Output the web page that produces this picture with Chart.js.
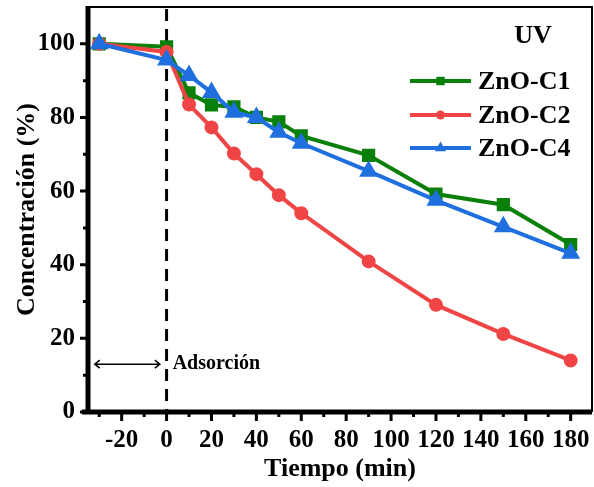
<!DOCTYPE html>
<html>
<head>
<meta charset="utf-8">
<script src="https://cdn.jsdelivr.net/npm/chart.js@4.4.1/dist/chart.umd.min.js"></script>
<style>
  html, body { margin: 0; padding: 0; background: #fff; }
  #wrap { width: 594px; height: 487px; }
</style>
</head>
<body>
<div id="wrap"><canvas id="myChart" width="594" height="487"></canvas></div>
<script>
// tiempo (min)
const tiempo = [-30, 0, 10, 20, 30, 40, 50, 60, 90, 120, 150, 180];
const znoC1 = [100, 99.2, 86.7, 83.4, 82.9, 80.0, 78.8, 75.0, 69.7, 59.2, 56.3, 45.5];
const znoC2 = [100, 97.8, 83.5, 77.3, 70.2, 64.6, 58.9, 54.0, 40.9, 29.1, 21.2, 14.0];
const znoC4 = [100, 95.6, 91.4, 86.8, 81.4, 80.0, 76.0, 73.0, 65.4, 57.5, 50.3, 43.1];
const xTicks = [-20, 0, 20, 40, 60, 80, 100, 120, 140, 160, 180];
const yTicks = [0, 20, 40, 60, 80, 100];

const serif = '"Liberation Serif", "Times New Roman", serif';
const green = '#0a800a', red = '#f04545', blue = '#1f6fdf';

function pts(ys){
  return tiempo.map((t, i) => ({x: t, y: ys[i]}));
}

function noPad(s){
  s.paddingTop = 0; s.paddingBottom = 0; s.paddingLeft = 0; s.paddingRight = 0;
}

// ejes, marcas, linea discontinua, leyenda y textos
const decor = {
  id: 'decor',
  beforeDatasetsDraw(chart){
    const ctx = chart.ctx, a = chart.chartArea;
    const xs = chart.scales.x;
    const x0 = xs.getPixelForValue(0);
    ctx.save();
    ctx.strokeStyle = '#000';
    ctx.lineWidth = 3;
    ctx.setLineDash([12, 8]);
    ctx.beginPath();
    ctx.moveTo(x0, a.top + 2);
    ctx.lineTo(x0, a.bottom);
    ctx.stroke();
    ctx.restore();
  },
  afterDatasetsDraw(chart){
    const ctx = chart.ctx, a = chart.chartArea;
    const xs = chart.scales.x, ys = chart.scales.y;
    ctx.save();
    ctx.strokeStyle = '#000';
    // top / right thin
    ctx.lineWidth = 2;
    ctx.beginPath();
    ctx.moveTo(a.left, a.top); ctx.lineTo(a.right, a.top); ctx.lineTo(a.right, a.bottom);
    ctx.stroke();
    // left / bottom thick
    ctx.lineWidth = 5;
    ctx.beginPath();
    ctx.moveTo(a.left, a.top - 1); ctx.lineTo(a.left, a.bottom);
    ctx.moveTo(a.left - 6, a.bottom); ctx.lineTo(a.right, a.bottom);
    ctx.stroke();
    // ticks
    ctx.lineWidth = 3;
    ctx.beginPath();
    for (let v = -30; v <= 180; v += 10){
      const px = xs.getPixelForValue(v);
      const len = v % 20 === 0 ? 9 : 5;
      ctx.moveTo(px, a.bottom); ctx.lineTo(px, a.bottom + len);
    }
    for (let v = 0; v <= 100; v += 10){
      const py = ys.getPixelForValue(v);
      const len = v % 20 === 0 ? 8 : 5;
      ctx.moveTo(a.left, py); ctx.lineTo(a.left - len, py);
    }
    ctx.stroke();

    // flecha de adsorcion
    const ay = ys.getPixelForValue(13);
    const ax1 = xs.getPixelForValue(-32), ax2 = xs.getPixelForValue(-3);
    ctx.lineWidth = 1.5;
    ctx.beginPath();
    ctx.moveTo(ax1, ay); ctx.lineTo(ax2, ay);
    ctx.moveTo(ax1 + 5, ay - 4); ctx.lineTo(ax1, ay); ctx.lineTo(ax1 + 5, ay + 4);
    ctx.moveTo(ax2 - 5, ay - 4); ctx.lineTo(ax2, ay); ctx.lineTo(ax2 - 5, ay + 4);
    ctx.stroke();
    ctx.fillStyle = '#000';
    ctx.font = 'bold 20px ' + serif;
    ctx.textBaseline = 'middle';
    ctx.textAlign = 'left';
    ctx.fillText('Adsorción', xs.getPixelForValue(2.7), ay);

    // UV
    ctx.font = 'bold 26px ' + serif;
    ctx.textAlign = 'center';
    ctx.fillText('UV', 533, 36);

    // leyenda
    const items = chart.data.datasets;
    const rows = [81, 115, 148];
    items.forEach((ds, i) => {
      const y = rows[i];
      ctx.strokeStyle = ds.borderColor;
      ctx.lineWidth = 4;
      ctx.setLineDash([]);
      ctx.beginPath();
      ctx.moveTo(410, y); ctx.lineTo(471, y);
      ctx.stroke();
      ctx.fillStyle = ds.backgroundColor;
      Chart.helpers.drawPoint(ctx, {pointStyle: ds.pointStyle, radius: ds.pointRadius - 0.5, rotation: 0, borderWidth: 0}, 440.5, y);
      ctx.fillStyle = '#000';
      ctx.font = 'bold 26px ' + serif;
      ctx.textAlign = 'left';
      ctx.fillText(ds.label, 478, y + 1);
    });
    ctx.restore();
  }
};

const ctx = document.getElementById('myChart');
new Chart(ctx, {
  type: 'line',
  data: {
    datasets: [{
      label: 'ZnO-C1',
      data: pts(znoC1),
      borderColor: green,
      backgroundColor: green,
      pointStyle: 'rect',
      pointRadius: 6.5,
      borderWidth: 4,
      order: 3
    }, {
      label: 'ZnO-C2',
      data: pts(znoC2),
      borderColor: red,
      backgroundColor: red,
      pointStyle: 'circle',
      pointRadius: 5,
      borderWidth: 4,
      order: 2
    }, {
      label: 'ZnO-C4',
      data: pts(znoC4),
      borderColor: blue,
      backgroundColor: blue,
      pointStyle: 'triangle',
      pointRadius: 7,
      borderWidth: 4,
      order: 1
    }]
  },
  options: {
    responsive: false,
    animation: false,
    layout: { autoPadding: false, padding: { top: 7, right: 2, left: 0, bottom: 0 } },
    plugins: { legend: { display: false }, tooltip: { enabled: false } },
    elements: { point: { borderWidth: 0, hoverRadius: 6 }, line: { tension: 0 } },
    scales: {
      x: {
        type: 'linear',
        min: -35,
        max: 189.5,
        afterFit(s){ s.height = 75; noPad(s); },
        afterBuildTicks(s){ s.ticks = xTicks.map(v => ({value: v})); },
        grid: { display: true, drawOnChartArea: false, drawTicks: true, tickLength: 14, color: 'rgba(0,0,0,0)' },
        border: { display: false },
        ticks: {
          color: '#000',
          padding: 0,
          maxRotation: 0,
          autoSkip: false,
          font: { family: serif, size: 25, weight: 'bold' }
        },
        title: {
          display: true,
          text: 'Tiempo (min)',
          color: '#000',
          padding: { top: 0, bottom: 2 },
          font: { family: serif, size: 26, weight: 'bold' }
        }
      },
      y: {
        min: 0,
        max: 110,
        afterFit(s){ s.width = 88; noPad(s); },
        afterBuildTicks(s){ s.ticks = yTicks.map(v => ({value: v})); },
        grid: { display: false, drawTicks: false },
        border: { display: false },
        ticks: {
          color: '#000',
          padding: 13,
          font: { family: serif, size: 25, weight: 'bold' }
        },
        title: {
          display: true,
          text: 'Concentración (%)',
          color: '#000',
          padding: { top: 12, bottom: 0 },
          font: { family: serif, size: 26, weight: 'bold' }
        }
      }
    }
  },
  plugins: [decor]
});
</script>
</body>
</html>
